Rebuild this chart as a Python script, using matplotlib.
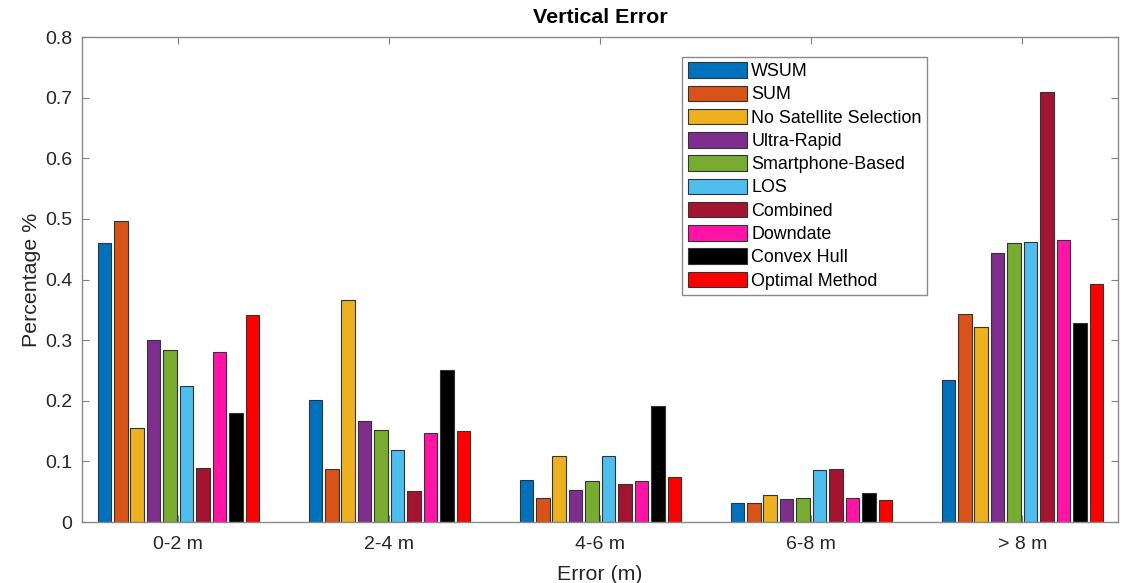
import numpy as np
import matplotlib
matplotlib.use("Agg")
import matplotlib.pyplot as plt

plt.rcParams.update({"font.family": ["Liberation Sans", "DejaVu Sans"], "font.size": 14})

groups = ["0-2 m", "2-4 m", "4-6 m", "6-8 m", "> 8 m"]
methods = ["WSUM", "SUM", "No Satellite Selection", "Ultra-Rapid", "Smartphone-Based",
           "LOS", "Combined", "Downdate", "Convex Hull", "Optimal Method"]
colors = ["#0072BD", "#D95319", "#EDB120", "#7E2F8E", "#77AC30",
          "#4DBEEE", "#A2142F", "#FF14A6", "#000000", "#FF0000"]

# rows = methods, cols = error bins
values = [
    [0.461, 0.201, 0.069, 0.032, 0.234],   # WSUM
    [0.497, 0.087, 0.039, 0.031, 0.343],   # SUM
    [0.155, 0.367, 0.109, 0.044, 0.322],   # No Satellite Selection
    [0.300, 0.166, 0.053, 0.038, 0.444],   # Ultra-Rapid
    [0.283, 0.151, 0.067, 0.039, 0.460],   # Smartphone-Based
    [0.224, 0.119, 0.109, 0.086, 0.462],   # LOS
    [0.089, 0.051, 0.063, 0.087, 0.709],   # Combined
    [0.281, 0.147, 0.067, 0.039, 0.465],   # Downdate
    [0.179, 0.251, 0.191, 0.048, 0.328],   # Convex Hull
    [0.341, 0.150, 0.075, 0.036, 0.393],   # Optimal Method
]

fig = plt.figure(figsize=(11.32, 5.83), dpi=100)
ax = fig.add_axes([0.0724, 0.1046, 0.9152, 0.8319])

x = np.arange(1, len(groups) + 1)
pitch = 0.078
width = 0.064
n = len(methods)
for i, (m, c, v) in enumerate(zip(methods, colors, values)):
    off = (i - (n - 1) / 2) * pitch
    ax.bar(x + off, v, width, color=c, edgecolor="#333333", linewidth=0.8, label=m)

ax.set_xlim(0.543, 5.453)
ax.set_ylim(0, 0.8)
ax.set_yticks(np.arange(0, 0.81, 0.1))
ax.set_yticklabels(["0", "0.1", "0.2", "0.3", "0.4", "0.5", "0.6", "0.7", "0.8"])
ax.set_xticks(x)
ax.set_xticklabels(groups)
ax.tick_params(direction="in", top=True, right=True, length=5, color="#808080",
               labelcolor="#262626", labelsize=14)
ax.tick_params(axis="x", pad=10)
ax.tick_params(axis="y", pad=7)
for sp in ax.spines.values():
    sp.set_color("#8a8a8a")
    sp.set_linewidth(1.0)

ax.set_xlabel("Error (m)", fontsize=15.4, color="#262626", labelpad=9)
ax.set_ylabel("Percentage %", fontsize=15.4, color="#262626", labelpad=3)
ax.set_title("Vertical Error", fontsize=15.4, fontweight="bold", pad=10)

leg = ax.legend(loc="upper right", bbox_to_anchor=(0.8157, 0.959), fontsize=12.9,
                handlelength=3.3, handleheight=0.95, labelspacing=0.3,
                handletextpad=0.25, borderaxespad=0, borderpad=0.3,
                fancybox=False, framealpha=1, edgecolor="#8a8a8a")
leg.get_frame().set_linewidth(1.0)

fig.savefig("out.png", dpi=100)
